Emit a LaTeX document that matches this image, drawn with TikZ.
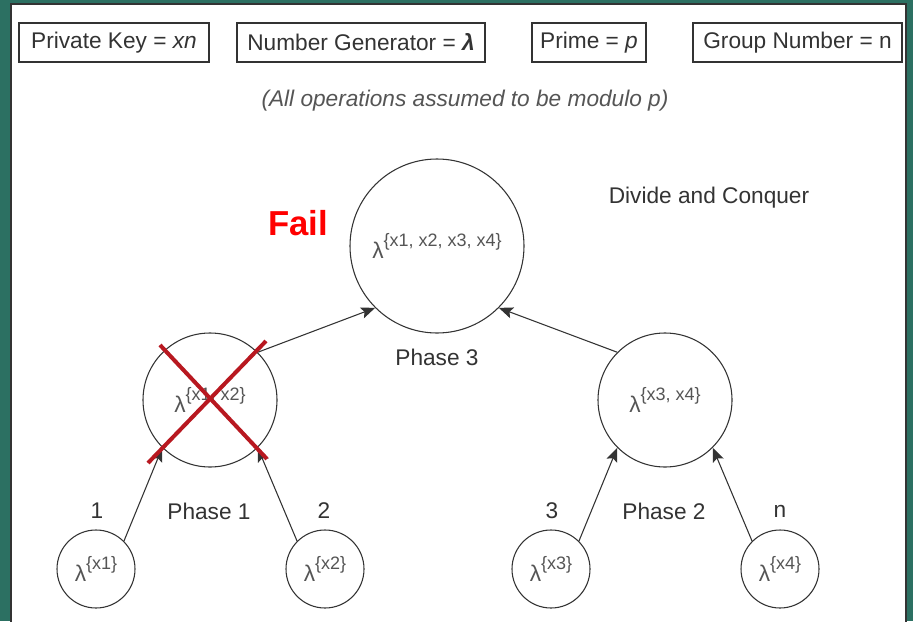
\documentclass[tikz,border=0pt]{standalone}
\usepackage{fontspec}
\setmainfont{Liberation Sans}
\usetikzlibrary{arrows.meta}
\definecolor{frameteal}{RGB}{44,112,98}
\definecolor{crossred}{RGB}{184,24,32}
\definecolor{inkgray}{RGB}{51,51,51}
\definecolor{labelgray}{RGB}{85,85,85}
\newcommand{\lamsup}[1]{λ\raisebox{0.5em}{\fontsize{13.5}{14}\selectfont\{#1\}}}
\tikzset{
  keybox/.style={draw=inkgray, line width=0.9pt, minimum height=29.25pt, inner sep=0pt, text=inkgray, font=\fontsize{17}{20}\selectfont},
  state/.style={circle, draw=inkgray, line width=0.8pt, inner sep=0pt, text=labelgray, font=\fontsize{17}{20}\selectfont},
  link/.style={draw=inkgray, line width=0.8pt, -{Stealth[length=10.5pt,width=8.5pt,inset=2pt]}},
  lbl/.style={text=inkgray, font=\fontsize{17}{20}\selectfont},
}
\begin{document}
\begin{tikzpicture}[x=0.75pt,y=0.75pt,yscale=-1,xscale=1]
\useasboundingbox (0,0) rectangle (913,621);
%Background and panel
\fill [frameteal] (0,0) rectangle (913,621);
\draw [fill=white, draw=inkgray, line width=1.2pt] (11,4) rectangle (906,630);
%Legend boxes
\node [keybox, minimum width=142.5pt] (key) at (114,42.5) {Private Key = \textit{xn}};
\node [keybox, minimum width=186pt] (gen) at (361,42.5) {Number Generator = \textit{\textbf{λ}}};
\node [keybox, minimum width=85.5pt] (prime) at (589,42.5) {Prime = \textit{p}};
\node [keybox, minimum width=156.75pt] (group) at (797.5,42.5) {Group Number = n};
\node [lbl, text=labelgray, font=\fontsize{17}{20}\selectfont\itshape] (note) at (465,101) {(All operations assumed to be modulo p)};
%Circles
\node [state, minimum size=130.5pt] (top) at (437,246) {\lamsup{x1, x2, x3, x4}};
\node [state, minimum size=100.5pt] (m1) at (210,400) {\lamsup{x1, x2}};
\node [state, minimum size=100.5pt] (m2) at (665,400) {\lamsup{x3, x4}};
\node [state, minimum size=58.5pt] (b1) at (96,569) {\lamsup{x1}};
\node [state, minimum size=58.5pt] (b2) at (325,569) {\lamsup{x2}};
\node [state, minimum size=58.5pt] (b3) at (551,569) {\lamsup{x3}};
\node [state, minimum size=58.5pt] (b4) at (780,569) {\lamsup{x4}};
%Arrows
\draw [link] (b1.45) -- (m1.225);
\draw [link] (b2.135) -- (m1.315);
\draw [link] (b3.45) -- (m2.225);
\draw [link] (b4.135) -- (m2.315);
\draw [link] (m1.45) -- (top.225);
\draw [link] (m2.135) -- (top.315);
%Labels
\node [lbl] (n1) at (97,511) {1};
\node [lbl] (ph1) at (209,511) {Phase 1};
\node [lbl] (n2) at (324,511) {2};
\node [lbl] (n3) at (552,511) {3};
\node [lbl] (ph2) at (664,511) {Phase 2};
\node [lbl] (nn) at (780,511) {n};
\node [lbl] (ph3) at (437,357) {Phase 3};
\node [lbl] (dc) at (709,198) {Divide and Conquer};
\node [text=red, font=\fontsize{26}{30}\selectfont\bfseries] (fail) at (298,223) {Fail};
%Red cross
\draw [crossred, line width=3pt] (160,345) -- (267,459);
\draw [crossred, line width=3pt] (266,341) -- (148,463);
\end{tikzpicture}
\end{document}
